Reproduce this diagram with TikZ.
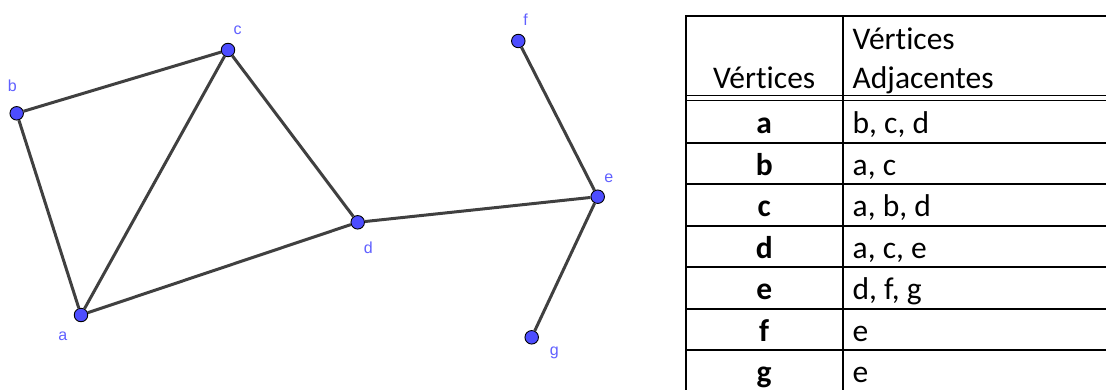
\documentclass[tikz,border=0pt]{standalone}
\usepackage{fontspec}
\setmainfont{Carlito}[Ligatures=NoCommon]
\newfontfamily\lblfont{Liberation Sans}
\definecolor{vblue}{RGB}{77,77,255}
\definecolor{lblue}{RGB}{96,96,255}
\definecolor{edgegray}{RGB}{64,64,64}
\tikzset{
  vtx/.style={circle, draw=black, line width=0.9pt, fill=vblue, minimum size=13.5pt, inner sep=0pt},
  lbl/.style={anchor=base, text=lblue, inner sep=0pt, font=\lblfont\fontsize{16}{18}\selectfont},
  edge/.style={draw=edgegray, line width=3pt},
  cell/.style={anchor=base, inner sep=0pt, font=\fontsize{31.5}{38}\selectfont},
  cellc/.style={cell, anchor=base},
  celll/.style={cell, anchor=base west},
  rule/.style={line width=2pt, black},
  thinrule/.style={line width=1.4pt, black}
}
\begin{document}
\begin{tikzpicture}[x=1pt, y=-1pt]
\useasboundingbox (0,0) rectangle (1106,389);
% vertices
\node[vtx] (a) at (81,315) {};
\node[vtx] (b) at (16.7,113.3) {};
\node[vtx] (c) at (228,50) {};
\node[vtx] (d) at (357.7,222.3) {};
\node[vtx] (e) at (597.7,196.7) {};
\node[vtx] (f) at (518.3,41) {};
\node[vtx] (g) at (531.7,337.3) {};
% labels
\node[lbl] (la) at (62.7,340) {a};
\node[lbl] (lb) at (12.3,91.7) {b};
\node[lbl] (lc) at (237.7,34.3) {c};
\node[lbl] (ld) at (368.3,253) {d};
\node[lbl] (le) at (608.7,182.7) {e};
\node[lbl] (lf) at (525.7,25) {f};
\node[lbl] (lg) at (554.3,355) {g};
% edges
\draw[edge] (b) -- (c);
\draw[edge] (b) -- (a);
\draw[edge] (a) -- (c);
\draw[edge] (c) -- (d);
\draw[edge] (a) -- (d);
\draw[edge] (d) -- (e);
\draw[edge] (f) -- (e);
\draw[edge] (e) -- (g);
% table rules
\draw[rule] (685.7,16) -- (1106,16);
\draw[thinrule] (685.7,95.5) -- (1106,95.5);
\draw[thinrule] (685.7,100.3) -- (1106,100.3);
\foreach \yy in {142.7,184.3,225.7,266.7,309,350}
  \draw[rule] (685.7,\yy) -- (1106,\yy);
\draw[rule] (685.7,15) -- (685.7,392);
\draw[rule] (842.7,15) -- (842.7,392);
% table text
\node[cellc] (h1) at (764.2,88) {Vértices};
\node[celll] (h2a) at (852.5,49) {Vértices};
\node[celll] (h2b) at (852.5,88) {Adjacentes};
\node[cellc] (ra) at (764.2,133) {\bfseries a};
\node[celll] (sa) at (852.5,133) {b, c, d};
\node[cellc] (rb) at (764.2,175) {\bfseries b};
\node[celll] (sb) at (852.5,175) {a, c};
\node[cellc] (rc) at (764.2,216.5) {\bfseries c};
\node[celll] (sc) at (852.5,216.5) {a, b, d};
\node[cellc] (rd) at (764.2,258) {\bfseries d};
\node[celll] (sd) at (852.5,258) {a, c, e};
\node[cellc] (re) at (764.2,299.5) {\bfseries e};
\node[celll] (se) at (852.5,299.5) {d, f, g};
\node[cellc] (rf) at (764.2,341) {\bfseries f};
\node[celll] (sf) at (852.5,341) {e};
\node[cellc] (rg) at (764.2,382) {\bfseries g};
\node[celll] (sg) at (852.5,382) {e};
\end{tikzpicture}
\end{document}
